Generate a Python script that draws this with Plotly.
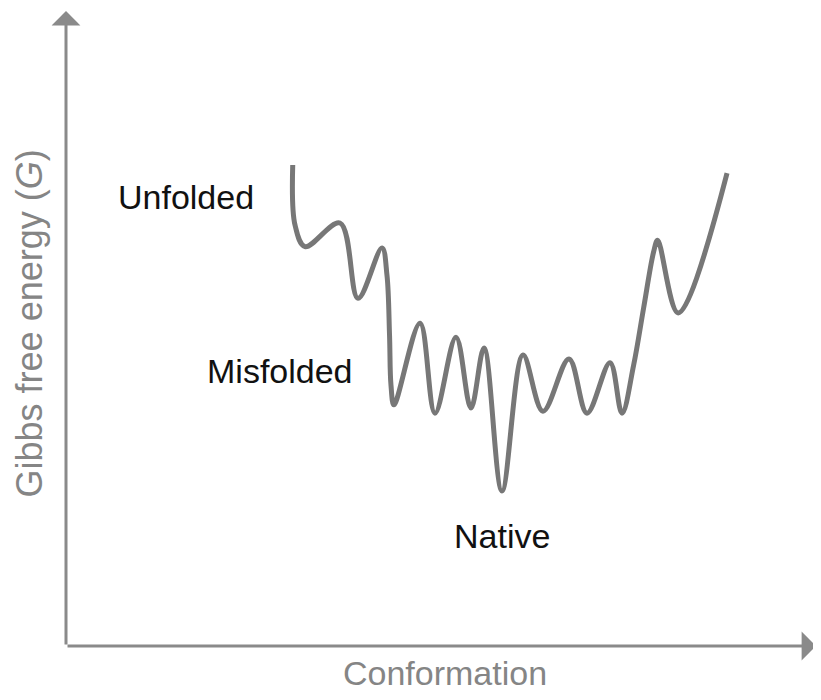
import plotly.graph_objects as go

# Conformation coordinate (arbitrary units) and Gibbs free energy (arbitrary units)
conformation = [3.007, 3.037, 3.170, 3.634, 3.873, 4.191, 4.257, 4.291, 4.310, 4.350,
                4.695, 4.894, 5.172, 5.371, 5.544, 5.782, 6.061, 6.326, 6.671, 6.910,
                7.215, 7.374, 7.528, 7.661, 7.794, 7.847, 8.120, 8.767]
energy = [7.54, 6.60, 6.26, 6.63, 5.45, 6.24, 5.81, 4.87, 4.09, 3.78,
          5.06, 3.65, 4.84, 3.73, 4.67, 2.43, 4.56, 3.68, 4.50, 3.65,
          4.44, 3.65, 4.40, 5.30, 6.18, 6.36, 5.22, 7.41]

labels = ["Unfolded", "Misfolded", "Native"]
label_x = [1.591, 2.838, 5.782]
label_y = [7.04, 4.31, 1.72]

x_title = "Conformation"
y_title = "Gibbs free energy (<i>G</i>)"

AXIS_COLOR = "#8a8a8a"
CURVE_COLOR = "#777777"
FONT = "Liberation Sans, Arial, sans-serif"

fig = go.Figure()
fig.add_trace(go.Scatter(
    x=conformation, y=energy, mode="lines",
    line=dict(color=CURVE_COLOR, width=5, shape="spline", smoothing=1.0),
    hoverinfo="skip", showlegend=False,
))

annotations = []
for t, x, y in zip(labels, label_x, label_y):
    annotations.append(dict(x=x, y=y, xref="x", yref="y", text=t, showarrow=False,
                            xanchor="center", yanchor="middle",
                            font=dict(family=FONT, size=34, color="#111111")))

# axis titles
annotations.append(dict(x=0.505, y=-0.0433, xref="paper", yref="paper", text=x_title,
                        showarrow=False, xanchor="center", yanchor="middle",
                        font=dict(family=FONT, size=34, color="#858585")))
annotations.append(dict(x=-0.0493, y=0.508, xref="paper", yref="paper", text=y_title,
                        showarrow=False, xanchor="center", yanchor="middle", textangle=-90,
                        font=dict(family=FONT, size=36, color="#858585")))

# axes with arrowheads
annotations.append(dict(x=0, y=1.0, xref="paper", yref="paper", ax=0, ay=635,
                        axref="pixel", ayref="pixel", text="", showarrow=True,
                        arrowhead=1, arrowsize=1.6, arrowwidth=3, arrowcolor=AXIS_COLOR,
                        standoff=0, startstandoff=0))
annotations.append(dict(x=1.0, y=0, xref="paper", yref="paper", ax=-750, ay=0,
                        axref="pixel", ayref="pixel", text="", showarrow=True,
                        arrowhead=1, arrowsize=1.6, arrowwidth=3, arrowcolor=AXIS_COLOR,
                        standoff=0, startstandoff=0))

fig.update_layout(
    width=813, height=692,
    margin=dict(l=58, r=5, t=3, b=54),
    paper_bgcolor="white", plot_bgcolor="white",
    xaxis=dict(range=[0, 9.947], visible=False, fixedrange=True),
    yaxis=dict(range=[0, 9.953], visible=False, fixedrange=True),
    annotations=annotations,
    showlegend=False,
)

fig.write_html("out.html")
